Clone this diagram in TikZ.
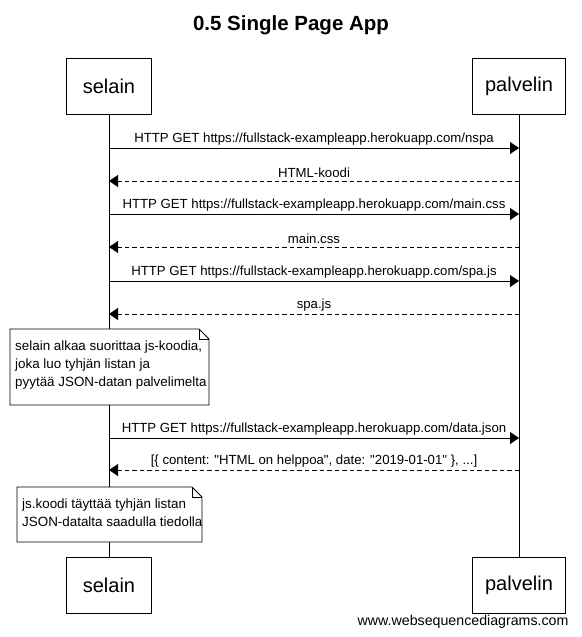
\documentclass[tikz,border=0pt]{standalone}
\usepackage{fontspec}
\setmainfont{Liberation Sans}
\newfontfamily\rawfont{Liberation Sans}[Ligatures=ResetAll]
\usetikzlibrary{arrows.meta,positioning}
\tikzstyle{actor}=[draw, line width=0.9pt, minimum width=85pt, minimum height=56pt, font=\fontsize{20}{24}\selectfont]
\tikzstyle{msg}=[font=\fontsize{13.2}{16}\selectfont, inner sep=2.5pt, anchor=south]
\tikzstyle{notetext}=[align=left, font=\fontsize{13.4}{18}\selectfont, inner sep=0pt, anchor=north west]
\tikzstyle{notebox}=[fill=white, draw=black, line width=0.8pt]
\tikzstyle{call}=[line width=0.8pt, -{Triangle[length=9pt,width=12pt]}]
\tikzstyle{reply}=[call, dash pattern=on 4.5pt off 3pt]

\begin{document}
\begin{tikzpicture}[x=1pt,y=-1pt]
\useasboundingbox (0,0) rectangle (581,637);
\node[font=\bfseries\fontsize{20.5}{24}\selectfont](title)at (291,25){0.5 Single Page App};

\node[actor](selainA)at (109,86){selain};
\node[actor, minimum width=93pt](palvelinA)at (519,86){palvelin};
\node[actor](selainB)at (109,585){selain};
\node[actor, minimum width=93pt](palvelinB)at (519,585){palvelin};

\draw[line width=0.8pt](selainA) -- (selainB);
\draw[line width=0.8pt](palvelinA) -- (palvelinB);

% viestit
\coordinate (s1) at (109,148); \coordinate (p1) at (519,148);
\coordinate (s2) at (109,181); \coordinate (p2) at (519,181);
\coordinate (s3) at (109,214); \coordinate (p3) at (519,214);
\coordinate (s4) at (109,247); \coordinate (p4) at (519,247);
\coordinate (s5) at (109,281); \coordinate (p5) at (519,281);
\coordinate (s6) at (109,314); \coordinate (p6) at (519,314);
\coordinate (s7) at (109,438); \coordinate (p7) at (519,438);
\coordinate (s8) at (109,470); \coordinate (p8) at (519,470);

\draw [call](s1) -- node[msg]{HTTP GET https://fullstack-exampleapp.herokuapp.com/nspa} (p1);
\draw [reply](p2) -- node[msg]{HTML-koodi} (s2);
\draw [call](s3) -- node[msg]{HTTP GET https://fullstack-exampleapp.herokuapp.com/main.css} (p3);
\draw [reply](p4) -- node[msg]{main.css} (s4);
\draw [call](s5) -- node[msg]{HTTP GET https://fullstack-exampleapp.herokuapp.com/spa.js} (p5);
\draw [reply](p6) -- node[msg]{spa.js} (s6);
\draw [call](s7) -- node[msg]{HTTP GET https://fullstack-exampleapp.herokuapp.com/data.json} (p7);
\draw [reply](p8) -- node[msg]{\rawfont [\{ content: "HTML on helppoa", date: "2019-01-01" \}, ...]} (s8);

% muistiinpanot
\draw[notebox] (10,329) -- (199,329) -- (209,339) -- (209,405) -- (10,405) -- cycle;
\draw[line width=0.8pt] (199,329) -- (199,339) -- (209,339);
\node[notetext](note1)at (15,341){selain alkaa suorittaa js-koodia,\\joka luo tyhjän listan ja\\pyytää JSON-datan palvelimelta};

\draw[notebox] (17,487) -- (192,487) -- (202,497) -- (202,542) -- (17,542) -- cycle;
\draw[line width=0.8pt] (192,487) -- (192,497) -- (202,497);
\node[notetext](note2)at (22,499){js.koodi täyttää tyhjän listan\\JSON-datalta saadulla tiedolla};

\node[font=\fontsize{14.2}{17}\selectfont, anchor=east](footer)at (572,622){www.websequencediagrams.com};
\end{tikzpicture}
\end{document}
